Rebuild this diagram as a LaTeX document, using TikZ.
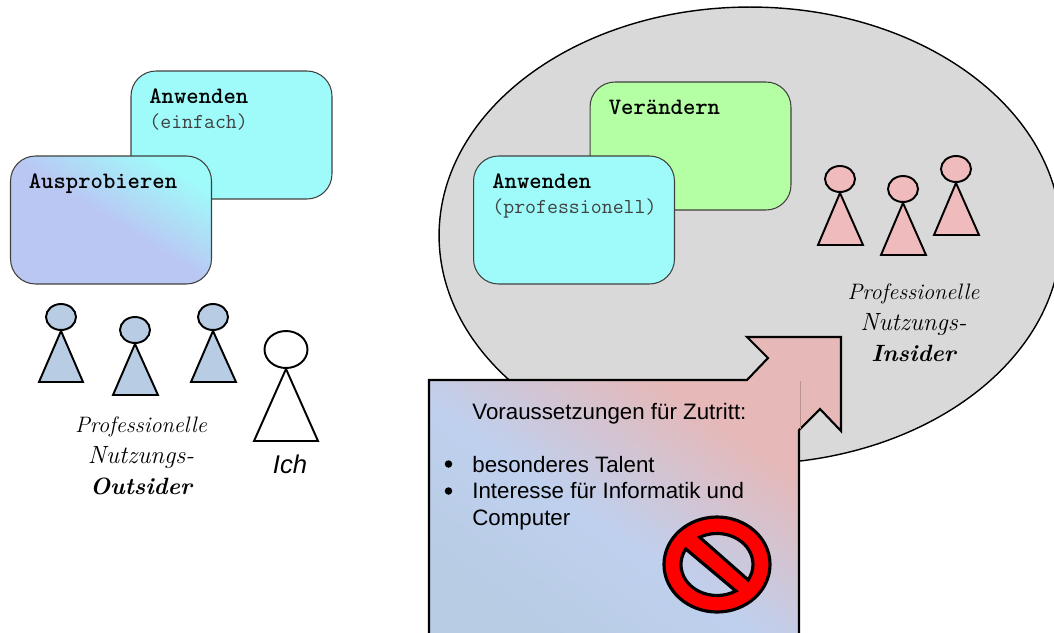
\documentclass[tikz,border=0pt]{standalone}
\usepackage{fontspec}
\usetikzlibrary{shapes.geometric}
\setsansfont{Liberation Sans}
\definecolor{turquoise}{HTML}{9FFBFA}
\definecolor{lightgreen}{HTML}{B4FFA4}
\definecolor{outsiderblue}{HTML}{B8CCE4}
\definecolor{insiderpink}{HTML}{F0BBBC}
\definecolor{gatepink}{HTML}{E6B8B7}
\definecolor{gateblue}{HTML}{BFD0EE}
\definecolor{periwinkle}{HTML}{BAC7F3}
\definecolor{areagray}{HTML}{D9D9D9}
\pgfdeclareverticalshading{gatefade}{100bp}{color(0bp)=(outsiderblue); color(25bp)=(outsiderblue); color(43bp)=(gateblue); color(65bp)=(gatepink); color(100bp)=(gatepink)}
\newcommand{\sublabel}[1]{\fontsize{12.1}{15}\selectfont\textcolor{black!75}{#1}}
\begin{document}
\begin{tikzpicture}[
    x=0.02cm, y=-0.02cm,
    stage/.style={rectangle, draw=black!75, minimum width=4.02cm, minimum height=2.56cm, rounded corners=0.5cm, inner sep=0pt, line width=0.6pt},
    stagetext/.style={anchor=north west, align=left, inner sep=0pt, font=\ttfamily\fontsize{13.4}{15}\selectfont},
    head/.style={ellipse, draw=black, line width=1.1pt, minimum width=0.6cm, minimum height=0.52cm, inner sep=0pt},
    body/.style={draw=black, line width=1.1pt, line join=miter},
    role/.style={align=center, font=\fontsize{12.7}{17.6}\selectfont\itshape},
    gate/.style={draw=black, line width=1.2pt, shading=gatefade, shading angle=-35},
    gatetext/.style={anchor=north west, align=left, inner sep=0pt, font=\sffamily\fontsize{12.7}{15.2}\selectfont},
    bullet/.style={circle, fill=black, minimum size=0.15cm, inner sep=0pt},
    forbidden/.style={draw=black, fill=red, line width=1.8pt, even odd rule}
]
\useasboundingbox (0,0) rectangle (1054,632);
\clip (0,0) rectangle (1054,632);

% Outsider side
\node[stage, fill=turquoise] (simple_use) at (231.5,135) {};
\node[stagetext] (simple_use_text) at (149,88.5) {\textbf{Anwenden}\\[-1pt]\sublabel{(einfach)}};
\node[stage, bottom color=periwinkle, top color=turquoise, middle color=periwinkle, shading angle=-32] (tryout) at (111,220) {};
\node[stagetext] (tryout_text) at (28.5,173.5) {\textbf{Ausprobieren}};

\node[head, fill=outsiderblue] (outsider_a) at (61,317) {};
\draw[body, fill=outsiderblue] (outsider_a.south) -- (83,382) -- (39,382) -- cycle;
\node[head, fill=outsiderblue] (outsider_b) at (135,330) {};
\draw[body, fill=outsiderblue] (outsider_b.south) -- (158,395) -- (113,395) -- cycle;
\node[head, fill=outsiderblue] (outsider_c) at (213,317) {};
\draw[body, fill=outsiderblue] (outsider_c.south) -- (236,382) -- (191,382) -- cycle;
\node[role] (outsider_label) at (141,456) {Professionelle\\{\fontsize{14.2}{17.6}\selectfont Nutzungs-}\\{\fontsize{13.4}{17.6}\selectfont\textbf{Outsider}}};

\node[head, fill=white, minimum width=0.86cm, minimum height=0.74cm] (me) at (286,349.5) {};
\draw[body] (me.south) -- (318,441) -- (254,441) -- cycle;
\node[font=\sffamily\itshape\fontsize{14.6}{16}\selectfont, inner sep=0pt] (me_label) at (290,464) {Ich};

% Insider side
\node[ellipse, draw=black, fill=areagray, line width=0.8pt, minimum width=12.44cm, minimum height=9.14cm, inner sep=0pt] (insider_area) at (750,235.5) {};
\node[stage, fill=lightgreen] (change) at (690.5,146) {};
\node[stagetext] (change_text) at (608.5,100) {\textbf{Verändern}};
\node[stage, fill=turquoise] (pro_use) at (574,220) {};
\node[stagetext] (pro_use_text) at (492,173.5) {\textbf{Anwenden}\\[-1pt]\sublabel{(professionell)}};

\node[head, fill=insiderpink] (insider_a) at (840,179) {};
\draw[body, fill=insiderpink] (insider_a.south) -- (863,245) -- (818,245) -- cycle;
\node[head, fill=insiderpink] (insider_b) at (903,189) {};
\draw[body, fill=insiderpink] (insider_b.south) -- (926,255) -- (881,255) -- cycle;
\node[head, fill=insiderpink] (insider_c) at (956,169) {};
\draw[body, fill=insiderpink] (insider_c.south) -- (979,235) -- (934,235) -- cycle;
\node[role] (insider_label) at (913.5,322.5) {Professionelle\\{\fontsize{14.2}{17.6}\selectfont Nutzungs-}\\{\fontsize{13.4}{17.6}\selectfont\textbf{Insider}}};

% Gate arrow
\path[gate] (429,380) -- (747,380) -- (768,358) -- (747,337) -- (841,337) -- (841,431) -- (820,409) -- (799,430) -- (799,640) -- (429,640) -- cycle;
\draw[gatepink!80!black, line width=0.3pt] (800,381) -- (800,429);
\node[gatetext] (gate_title) at (472,402.5) {Voraussetzungen für Zutritt:};
\node[bullet] (bullet_talent) at (448.5,464) {};
\node[bullet] (bullet_interest) at (448.5,491) {};
\node[gatetext] (gate_items) at (472,455.5) {besonderes Talent\\Interesse für Informatik und\\Computer};

% No entry sign
\begin{scope}[shift={(717,564.5)}]
\draw[forbidden] (0,0) ellipse [x radius=53, y radius=47.5]
    (-17.3,-27.2) arc [start angle=-118.7, end angle=30, x radius=36, y radius=31] -- cycle
    (-31.2,-15.5) arc [start angle=210, end angle=58.5, x radius=36, y radius=31] -- cycle;
\end{scope}
\end{tikzpicture}
\end{document}
